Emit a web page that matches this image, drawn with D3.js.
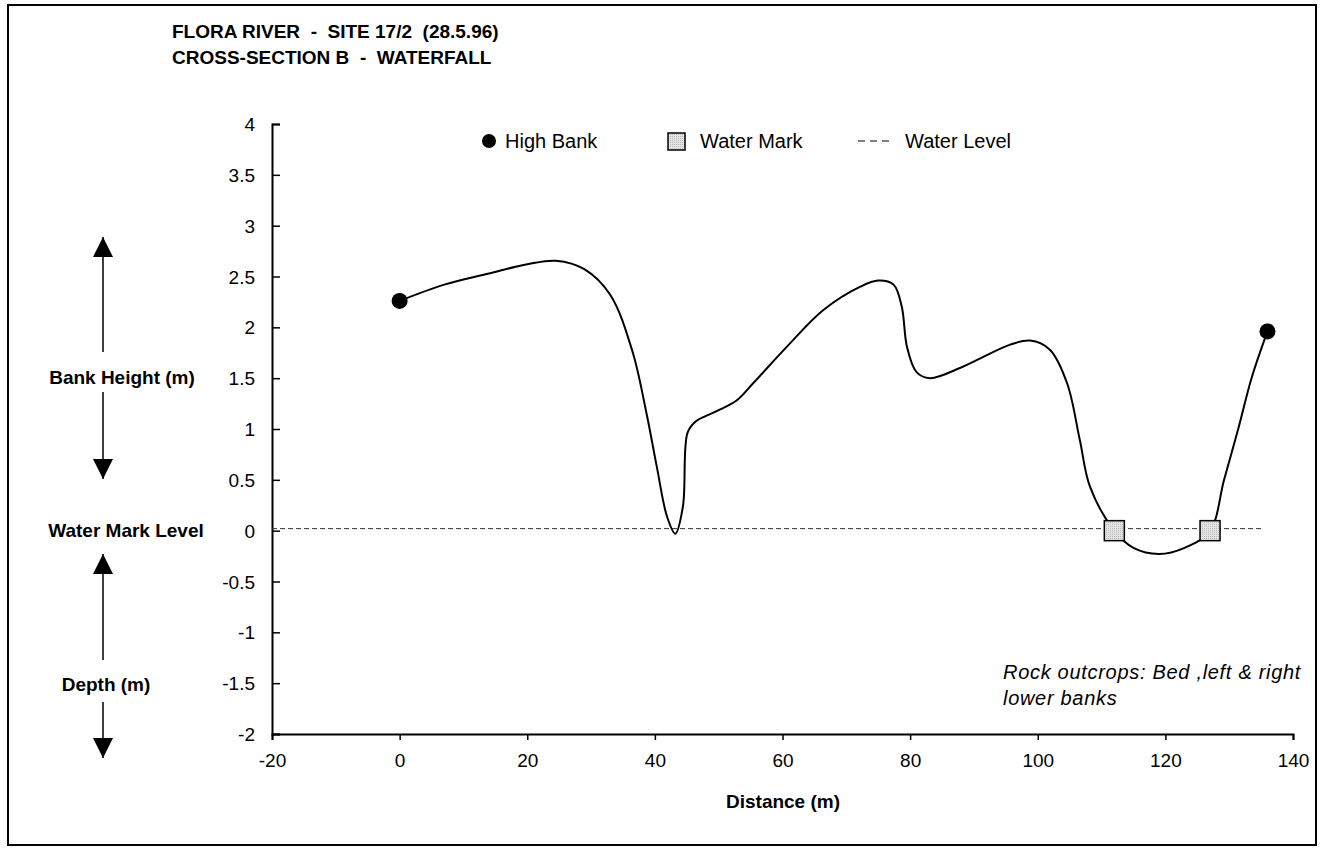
<!DOCTYPE html>
<html>
<head>
<meta charset="utf-8">
<script src="https://cdn.jsdelivr.net/npm/d3@7"></script>
<style>
  body { margin: 0; background: #fff; }
  svg { display: block; font-family: "Liberation Sans", Arial, sans-serif; }
</style>
</head>
<body>
<div id="chart"></div>
<script>
// Cross-section profile (distance m, height m).
const profileX = [0, 7, 14, 20, 24.5, 29, 33, 36.5, 38.7, 40.3, 41.9, 43.2, 44.4, 45.1, 46.3, 49.5, 52.8, 55.4, 60.7, 66.4, 72.2, 75, 77.4, 78.7, 79.5, 81, 83.1, 87.8, 90.5, 95.7, 98.8, 101.9, 104.6, 106.6, 108.2, 112, 115, 119, 123, 127, 129.2, 131.5, 133.5, 136];
const profileY = [2.26, 2.42, 2.53, 2.62, 2.655, 2.57, 2.32, 1.76, 1.15, 0.63, 0.14, -0.03, 0.24, 0.96, 1.07, 1.17, 1.28, 1.45, 1.81, 2.17, 2.4, 2.46, 2.42, 2.2, 1.81, 1.56, 1.5, 1.6, 1.68, 1.83, 1.87, 1.78, 1.45, 0.89, 0.43, 0, -0.17, -0.23, -0.17, 0, 0.5, 1.02, 1.5, 1.96];

const highBankX = [0, 136];
const highBankY = [2.26, 1.96];
const waterMarkX = [112, 127];
const waterMarkY = [0, 0];
const waterLevelX = [-20, 135];
const waterLevelY = [0.02, 0.02];

const xTicks = [-20, 0, 20, 40, 60, 80, 100, 120, 140];
const yTicks = [-2, -1.5, -1, -0.5, 0, 0.5, 1, 1.5, 2, 2.5, 3, 3.5, 4];

const width = 1320;
const height = 856;

const svg = d3.select("#chart")
    .append("svg")
    .attr("width", width)
    .attr("height", height);

// dotted fill for the water mark squares
const defs = svg.append("defs");
const pat = defs.append("pattern")
    .attr("id", "dots")
    .attr("width", 2).attr("height", 2)
    .attr("patternUnits", "userSpaceOnUse");
pat.append("rect").attr("width", 2).attr("height", 2).attr("fill", "#e4e4e4");
pat.append("rect").attr("width", 1).attr("height", 1).attr("fill", "#b8b8b8");

defs.append("marker")
    .attr("id", "arrow")
    .attr("viewBox", "0 0 10 10")
    .attr("refX", 10).attr("refY", 5)
    .attr("markerWidth", 20).attr("markerHeight", 20)
    .attr("markerUnits", "userSpaceOnUse")
    .attr("orient", "auto")
    .append("path")
    .attr("d", "M0,0 L10,5 L0,10 Z")
    .attr("fill", "#000");

// outer frame
svg.append("rect")
    .attr("x", 8).attr("y", 5)
    .attr("width", 1308).attr("height", 840)
    .attr("fill", "none")
    .attr("stroke", "#000")
    .attr("stroke-width", 2);

// title
const title = svg.append("g").attr("font-size", 19).attr("font-weight", "bold");
title.append("text")
    .attr("x", 172).attr("y", 38)
    .attr("xml:space", "preserve")
    .text("FLORA RIVER  -  SITE 17/2  (28.5.96)");
title.append("text")
    .attr("x", 172).attr("y", 64)
    .attr("xml:space", "preserve")
    .text("CROSS-SECTION B  -  WATERFALL");

// scales
const x = d3.scaleLinear().domain([-20, 140]).range([272, 1293]);
const y = d3.scaleLinear().domain([-2, 4]).range([734, 124]);

// axes
const yAxis = svg.append("g")
    .attr("transform", `translate(${x(-20)},0)`)
    .call(d3.axisLeft(y).tickValues(yTicks).tickSize(-8).tickPadding(17).tickFormat(d => String(d)));
const xAxis = svg.append("g")
    .attr("transform", `translate(0,${y(-2)})`)
    .call(d3.axisBottom(x).tickValues(xTicks).tickSize(6).tickPadding(14).tickFormat(d => String(d)));

[xAxis, yAxis].forEach(g => {
    g.select(".domain").attr("stroke-width", 2);
    g.selectAll(".tick line").attr("stroke-width", 1.5);
    g.selectAll("text")
        .attr("font-family", "Liberation Sans, Arial, sans-serif")
        .attr("font-size", 19)
        .attr("fill", "#000");
});
yAxis.selectAll("text").attr("dy", "0.35em");

// axis title
svg.append("text")
    .attr("x", 783).attr("y", 808)
    .attr("text-anchor", "middle")
    .attr("font-size", 19).attr("font-weight", "bold")
    .text("Distance (m)");

// water level (dashed)
const waterLevel = waterLevelX.map((d, i) => [d, waterLevelY[i]]);
svg.append("path")
    .datum(waterLevel)
    .attr("d", d3.line().x(d => x(d[0])).y(d => y(d[1])))
    .attr("fill", "none")
    .attr("stroke", "#333")
    .attr("stroke-width", 1)
    .attr("stroke-dasharray", "5,3");

// profile line
const profile = profileX.map((d, i) => [d, profileY[i]]);
svg.append("path")
    .datum(profile)
    .attr("d", d3.line().curve(d3.curveCatmullRom.alpha(0.5)).x(d => x(d[0])).y(d => y(d[1])))
    .attr("fill", "none")
    .attr("stroke", "#000")
    .attr("stroke-width", 2);

// markers
svg.selectAll(".bank")
    .data(highBankX.map((d, i) => [d, highBankY[i]]))
    .enter()
    .append("circle")
    .attr("class", "bank")
    .attr("cx", d => x(d[0]))
    .attr("cy", d => y(d[1]))
    .attr("r", 8)
    .attr("fill", "#000");

svg.selectAll(".wmark")
    .data(waterMarkX.map((d, i) => [d, waterMarkY[i]]))
    .enter()
    .append("rect")
    .attr("class", "wmark")
    .attr("x", d => x(d[0]) - 10)
    .attr("y", d => y(d[1]) - 10)
    .attr("width", 20).attr("height", 20)
    .attr("fill", "url(#dots)")
    .attr("stroke", "#000")
    .attr("stroke-width", 1.5);

// legend
const legend = svg.append("g").attr("font-size", 20);
legend.append("circle").attr("cx", 489).attr("cy", 141).attr("r", 7).attr("fill", "#000");
legend.append("text").attr("x", 505).attr("y", 148).text("High Bank");
legend.append("rect").attr("x", 668).attr("y", 133).attr("width", 17).attr("height", 17)
    .attr("fill", "url(#dots)").attr("stroke", "#000").attr("stroke-width", 1.5);
legend.append("text").attr("x", 700).attr("y", 148).text("Water Mark");
legend.append("line").attr("x1", 858).attr("x2", 890).attr("y1", 141).attr("y2", 141)
    .attr("stroke", "#000").attr("stroke-width", 1).attr("stroke-dasharray", "7,5");
legend.append("text").attr("x", 905).attr("y", 148).text("Water Level");

// left side labels with arrows
const side = svg.append("g").attr("font-size", 19).attr("font-weight", "bold").attr("text-anchor", "middle");
side.append("text").attr("x", 122).attr("y", 384).text("Bank Height (m)");
side.append("text").attr("x", 126).attr("y", 537).text("Water Mark Level");
side.append("text").attr("x", 106).attr("y", 691).text("Depth (m)");

const arrows = [[352, 237], [392, 479], [660, 554], [702, 758]];
arrows.forEach(a => {
    svg.append("line")
        .attr("x1", 103).attr("x2", 103)
        .attr("y1", a[0]).attr("y2", a[1])
        .attr("stroke", "#000")
        .attr("stroke-width", 1.5)
        .attr("marker-end", "url(#arrow)");
});

// note
const note = svg.append("g").attr("font-size", 20).attr("font-style", "italic").attr("letter-spacing", 0.7);
note.append("text").attr("x", 1003).attr("y", 679).text("Rock outcrops: Bed ,left & right");
note.append("text").attr("x", 1003).attr("y", 705).text("lower banks");
</script>
</body>
</html>
